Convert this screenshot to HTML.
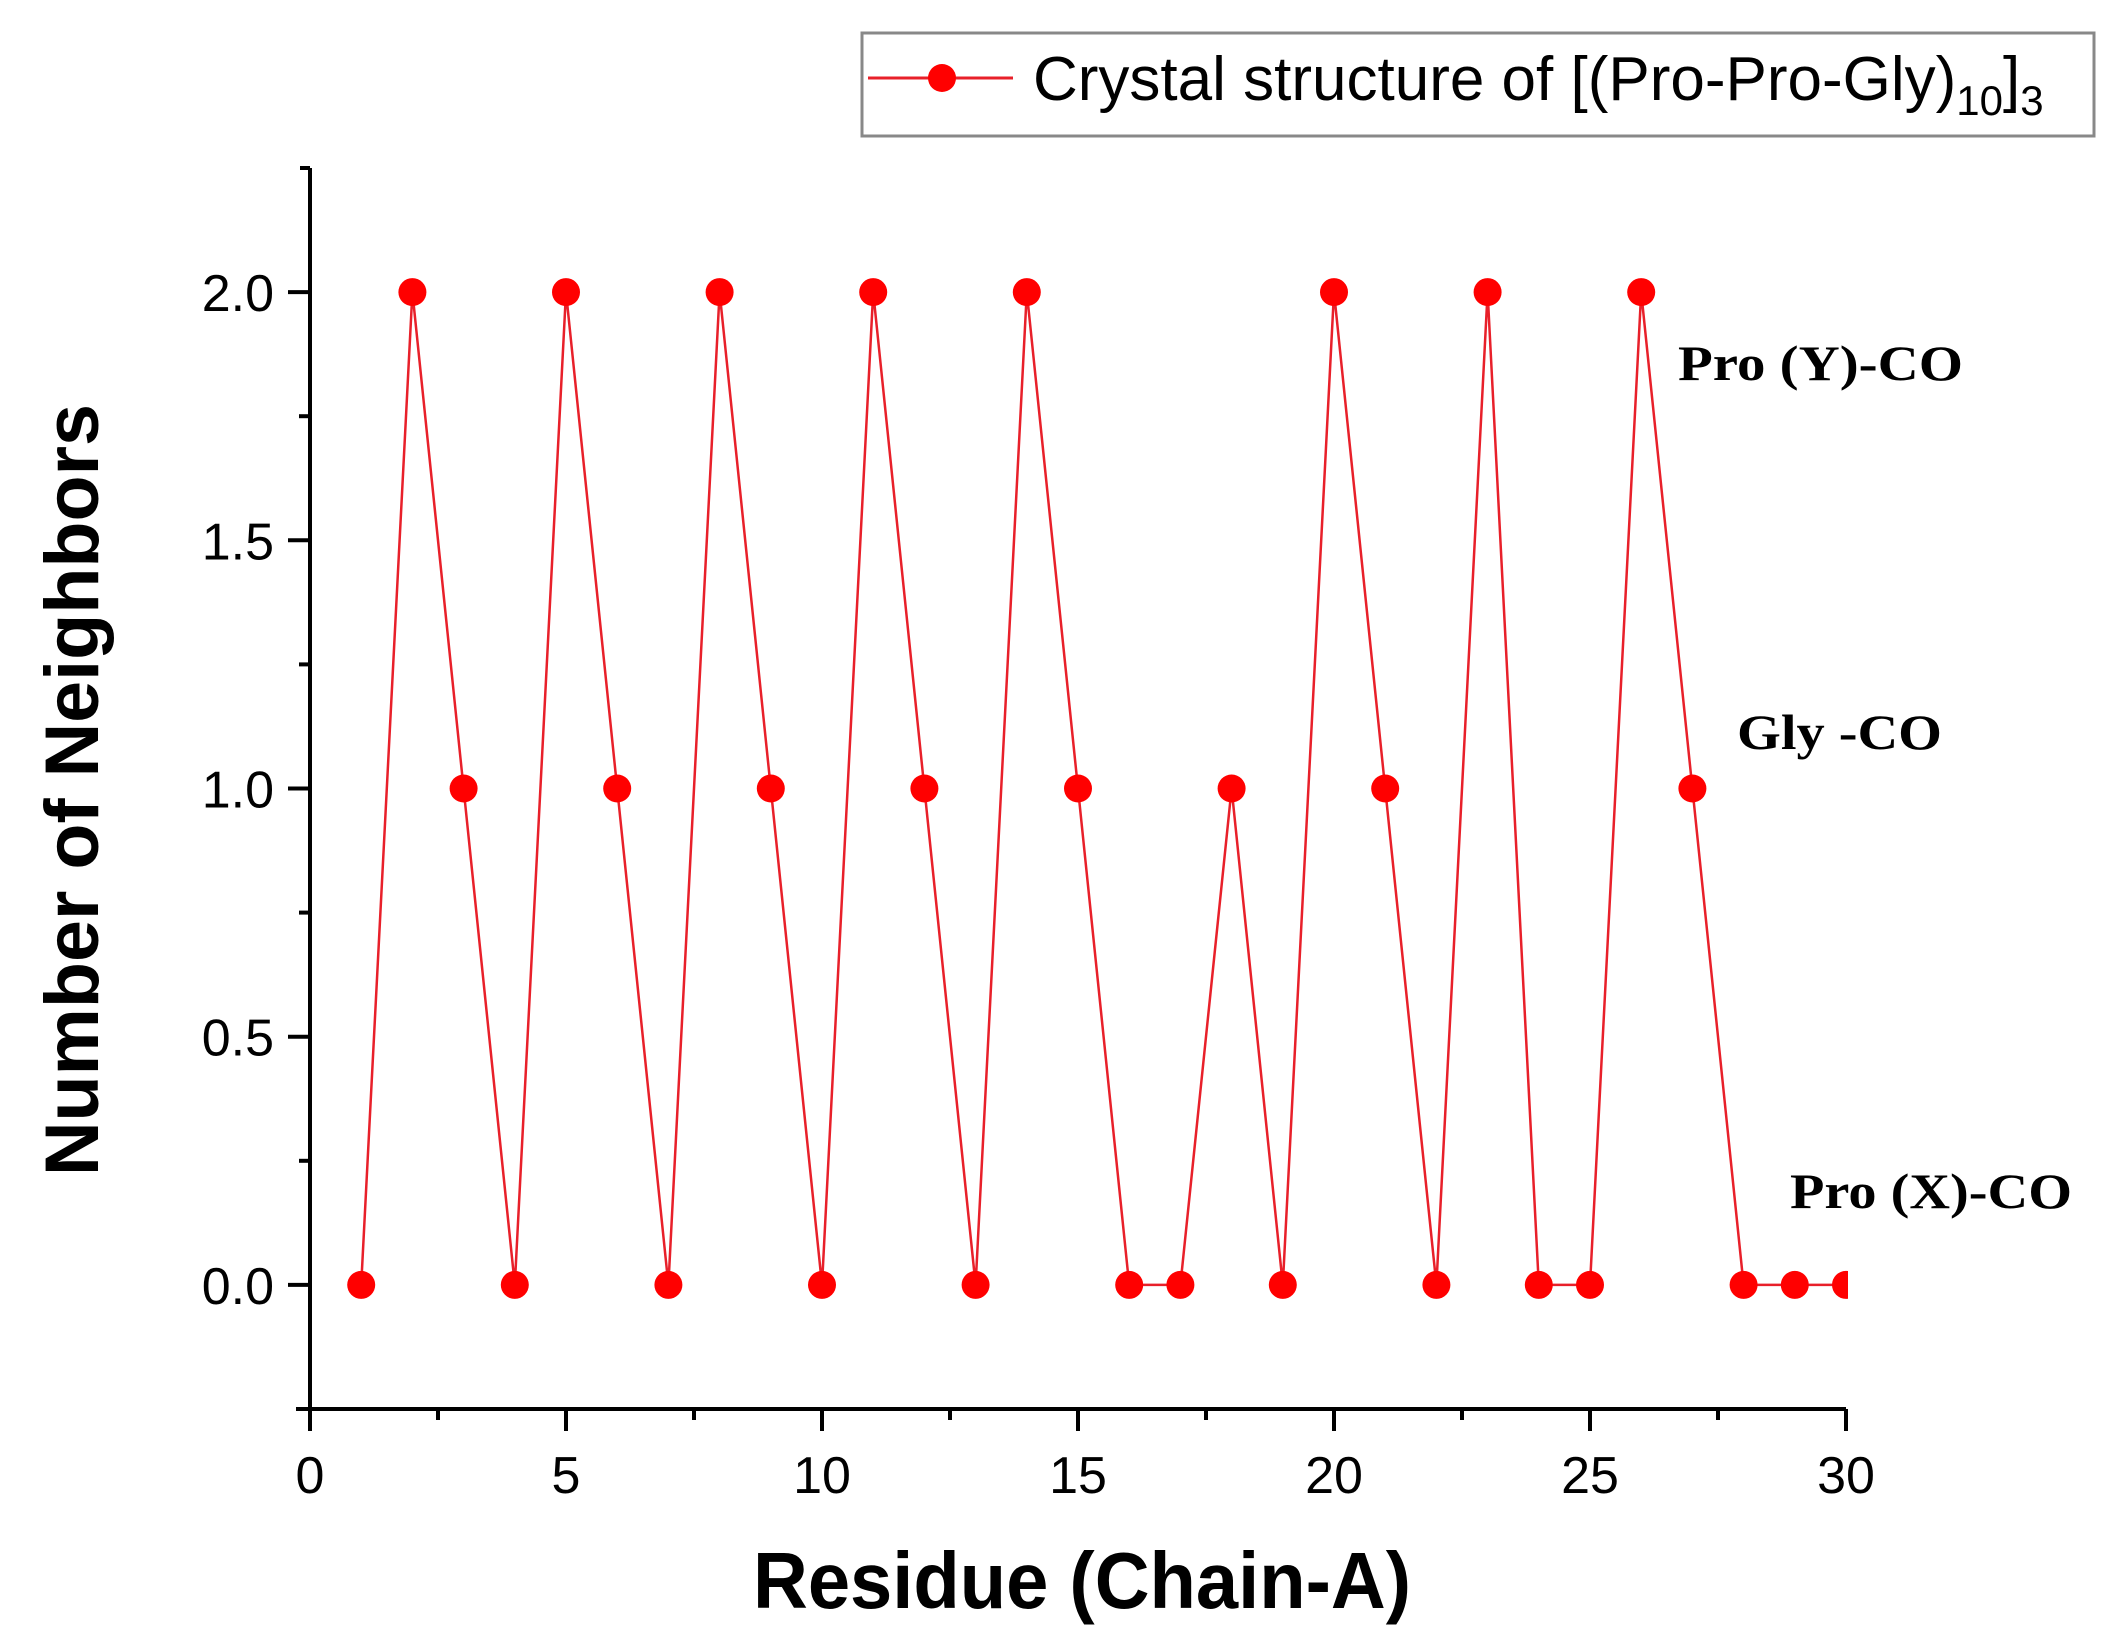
<!DOCTYPE html>
<html><head><meta charset="utf-8"><style>
html,body{margin:0;padding:0;background:#fff}
svg{display:block}
</style></head><body>
<svg id="chart" width="2126" height="1642" xmlns="http://www.w3.org/2000/svg">
<defs><clipPath id="plotclip"><rect x="310" y="160" width="1538" height="1260"/></clipPath></defs>
<g id="axes"></g>
<g id="series" clip-path="url(#plotclip)"></g>
<text x="1082" y="1608" text-anchor="middle" font-family="Liberation Sans, sans-serif" font-weight="bold" font-size="80" textLength="658" lengthAdjust="spacingAndGlyphs">Residue (Chain-A)</text>
<text transform="translate(98,790) rotate(-90)" text-anchor="middle" font-family="Liberation Sans, sans-serif" font-weight="bold" font-size="76" textLength="772" lengthAdjust="spacingAndGlyphs">Number of Neighbors</text>
<text x="1678" y="380" font-family="Liberation Serif, serif" font-weight="bold" font-size="50" textLength="285" lengthAdjust="spacingAndGlyphs">Pro (Y)-CO</text>
<text x="1737" y="749" font-family="Liberation Serif, serif" font-weight="bold" font-size="50" textLength="205" lengthAdjust="spacingAndGlyphs">Gly -CO</text>
<text x="1790" y="1208" font-family="Liberation Serif, serif" font-weight="bold" font-size="50" textLength="282" lengthAdjust="spacingAndGlyphs">Pro (X)-CO</text>
<g>
<rect x="862" y="33" width="1232" height="103" fill="#fff" stroke="#888" stroke-width="3"/>
<line x1="868" y1="78" x2="1013" y2="78" stroke="#e8202a" stroke-width="3"/>
<circle cx="942" cy="78" r="14" fill="#f00"/>
<text x="1033" y="100" font-family="Liberation Sans, sans-serif" font-size="62">Crystal structure of [(Pro-Pro-Gly)<tspan font-size="42" dy="15">10</tspan><tspan dy="-15">]</tspan><tspan font-size="42" dy="15">3</tspan></text>
</g>
</svg>
<script>
const residues=[1,2,3,4,5,6,7,8,9,10,11,12,13,14,15,16,17,18,19,20,21,22,23,24,25,26,27,28,29,30];
const neighbors=[0,2,1,0,2,1,0,2,1,0,2,1,0,2,1,0,0,1,0,2,1,0,2,0,0,2,1,0,0,0];
const xTicks=[0,5,10,15,20,25,30];
const yTicks=[0,0.5,1,1.5,2];
const yTickLabels=["0.0","0.5","1.0","1.5","2.0"];
const NS='http://www.w3.org/2000/svg';
const X0=310,X1=1846,XMIN=0,XMAX=30;
const Y0=1409,Y1=168,YMIN=-0.25,YMAX=2.25;
function sx(v){return X0+(v-XMIN)/(XMAX-XMIN)*(X1-X0);}
function sy(v){return Y0-(v-YMIN)/(YMAX-YMIN)*(Y0-Y1);}
function mk(tag,attrs,parent){const e=document.createElementNS(NS,tag);for(const k in attrs)e.setAttribute(k,attrs[k]);parent.appendChild(e);return e;}
const axes=document.getElementById('axes');
let e;
e=mk('line',{x1:X0,y1:Y1,x2:X0,y2:Y0+22,stroke:'#000','stroke-width':4},axes);


e=mk('line',{x1:X0-14,y1:Y0,x2:X1,y2:Y0,stroke:'#000','stroke-width':4},axes);


e=mk('line',{x1:X0-10,y1:Y1,x2:X0,y2:Y1,stroke:'#000','stroke-width':4},axes);


for(let v=XMIN;v<=XMAX+0.001;v+=2.5){
  const major=Math.abs(v%5)<0.001;
  e=mk('line',{x1:sx(v),y1:Y0,x2:sx(v),y2:Y0+(major?22:11),stroke:'#000','stroke-width':4},axes);
  
  
}
xTicks.forEach(v=>{
  e=mk('text',{x:sx(v),y:Y0+84,'text-anchor':'middle','font-family':'Liberation Sans, sans-serif','font-size':52},axes);
  e.textContent=String(v);
  
  
});
for(let v=0;v<=2.001;v+=0.25){
  const major=Math.abs((v*2)%1)<0.001;
  e=mk('line',{x1:X0-(major?22:11),y1:sy(v),x2:X0,y2:sy(v),stroke:'#000','stroke-width':4},axes);
  
  
}
yTicks.forEach((v,i)=>{
  e=mk('text',{x:X0-36,y:sy(v)+19,'text-anchor':'end','font-family':'Liberation Sans, sans-serif','font-size':52},axes);
  e.textContent=yTickLabels[i];
  
  
});
const series=document.getElementById('series');
const pts=residues.map((r,i)=>sx(r)+','+sy(neighbors[i])).join(' ');
e=mk('polyline',{points:pts,fill:'none',stroke:'#e8202a','stroke-width':2.5},series);


residues.forEach((r,i)=>{
  e=mk('circle',{cx:sx(r),cy:sy(neighbors[i]),r:14,fill:'#f00'},series);
  
  
});
</script>
</body></html>
